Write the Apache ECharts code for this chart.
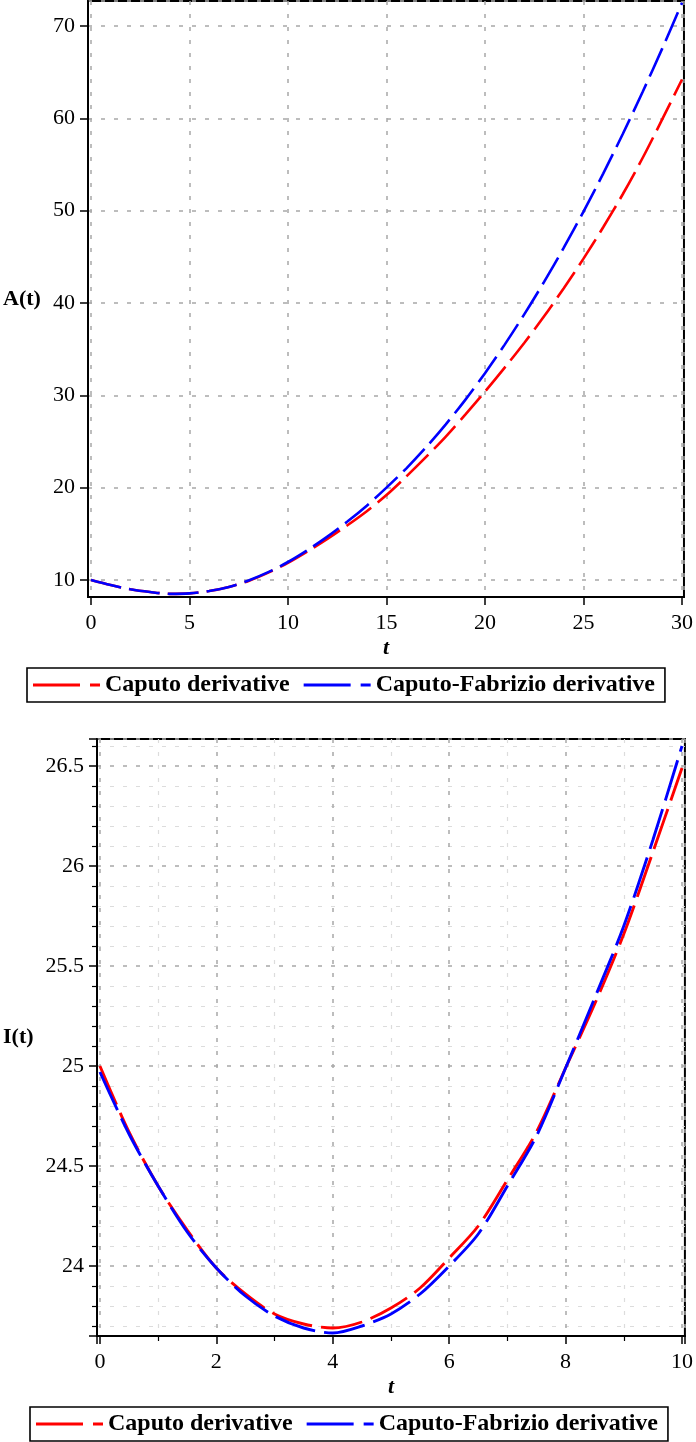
<!DOCTYPE html>
<html>
<head>
<meta charset="utf-8">
<script src="https://cdn.jsdelivr.net/npm/echarts@6/dist/echarts.min.js"></script>
<style>
html,body{margin:0;padding:0;background:#fff;}
#c{width:696px;height:1442px;}
</style>
</head>
<body>
<div id="c"></div>
<script>
// ---- Data ----
const legendNames = ['Caputo derivative', 'Caputo-Fabrizio derivative'];

// Top chart A(t), t = 0..30 step 1
const tA = [0,1,2,3,4,5,6,7,8,9,10,11,12,13,14,15,16,17,18,19,20,21,22,23,24,25,26,27,28,29,30];
const A_caputo = [10.0, 9.45, 9.0, 8.7, 8.5, 8.55, 8.8, 9.25, 9.9, 10.8, 11.85, 13.1, 14.45, 15.9, 17.45, 19.2, 21.2, 23.3, 25.5, 27.9, 30.4, 33.0, 35.7, 38.55, 41.6, 44.8, 48.2, 51.8, 55.7, 59.9, 64.2];
const A_cf = [10.0, 9.45, 9.0, 8.7, 8.5, 8.55, 8.8, 9.25, 9.95, 10.85, 11.95, 13.25, 14.7, 16.3, 18.05, 20.0, 22.07, 24.35, 26.83, 29.51, 32.4, 35.49, 38.79, 42.29, 45.99, 49.9, 54.01, 58.33, 62.85, 67.57, 72.5];

// Bottom chart I(t), t = 0..10 step 0.5
const tI = [0,0.5,1,1.5,2,2.5,3,3.5,4,4.5,5,5.5,6,6.5,7,7.5,8,8.5,9,9.5,10];
const I_caputo = [25.0, 24.67, 24.40, 24.18, 23.99, 23.86, 23.76, 23.71, 23.69, 23.72, 23.79, 23.89, 24.04, 24.20, 24.43, 24.67, 24.99, 25.31, 25.66, 26.07, 26.49];
const I_cf = [24.97, 24.66, 24.40, 24.17, 23.99, 23.85, 23.75, 23.69, 23.665, 23.70, 23.76, 23.86, 24.00, 24.16, 24.40, 24.65, 24.99, 25.34, 25.70, 26.13, 26.60];

// axis extents
const topX = {min: -0.15, max: 30.1};
const topY = {min: 8.16, max: 72.7};
const botX = {min: -0.05, max: 10.05};
const botY = {min: 23.65, max: 26.635};

const pair = (xs, ys) => xs.map((x, i) => [x, ys[i]]);

const FONT = 'Liberation Serif';
const gridDash = {color: '#a8a8a8', width: 1.5, type: [4, 9]};
const minorDash = {color: '#dcdcdc', width: 1.2, type: [4, 9]};
const legendIcon = 'path://M0,0H47V3H0ZM57,0H67V3H57Z';

function xAxisCfg(gridIndex, ext, minor) {
  return {
    type: 'value', gridIndex, min: ext.min, max: ext.max, splitNumber: 5,
    name: 't', nameLocation: 'middle', nameGap: 40,
    nameTextStyle: {fontFamily: FONT, fontSize: 22, fontWeight: 'bold', fontStyle: 'italic', color: '#000'},
    axisLine: {show: true, onZero: false, lineStyle: {color: '#000', width: 2}},
    axisTick: {show: true, length: 8, lineStyle: {color: '#000', width: 1.5}},
    minorTick: {show: minor, splitNumber: 2, length: 5, lineStyle: {color: '#000', width: 1.2}},
    axisLabel: {show: true, margin: 15, fontFamily: FONT, fontSize: 22, color: '#000', showMinLabel: false, showMaxLabel: false},
    splitLine: {show: true, lineStyle: gridDash},
    minorSplitLine: {show: minor, lineStyle: minorDash}
  };
}
function yAxisCfg(gridIndex, ext, name, gap, minor) {
  return {
    type: 'value', gridIndex, min: ext.min, max: ext.max, splitNumber: 5,
    name, nameLocation: 'middle', nameRotate: 0, nameGap: gap,
    nameTextStyle: {fontFamily: FONT, fontSize: 22, fontWeight: 'bold', color: '#000', align: 'left', verticalAlign: 'middle'},
    axisLine: {show: true, onZero: false, lineStyle: {color: '#000', width: 2}},
    axisTick: {show: true, length: 8, lineStyle: {color: '#000', width: 1.5}},
    minorTick: {show: minor, splitNumber: 5, length: 5, lineStyle: {color: '#000', width: 1.2}},
    axisLabel: {show: true, margin: 13, fontFamily: FONT, fontSize: 22, color: '#000', showMinLabel: false, showMaxLabel: false},
    splitLine: {show: true, lineStyle: gridDash},
    minorSplitLine: {show: minor, lineStyle: minorDash}
  };
}
function lineSeries(name, xi, yi, data, color, width, dash) {
  return {
    type: 'line', name, xAxisIndex: xi, yAxisIndex: yi, data,
    symbol: 'none', showSymbol: false, smooth: 0.3, silent: true, animation: false,
    lineStyle: {color, width, type: dash}, itemStyle: {color}
  };
}
function legendCfg(left, top) {
  return {
    data: legendNames.map(n => ({name: n, icon: legendIcon})),
    left, top,
    orient: 'horizontal',
    itemWidth: 67, itemHeight: 3, itemGap: 14,
    padding: [5, 10, 5, 6],
    borderColor: '#000', borderWidth: 1.6,
    selectedMode: false,
    textStyle: {fontFamily: FONT, fontSize: 24, fontWeight: 'bold', color: '#000'}
  };
}

const chart = echarts.init(document.getElementById('c'), null, {renderer: 'canvas'});
chart.setOption({
  animation: false,
  backgroundColor: '#fff',
  grid: [
    {left: 88, top: 1, width: 599, height: 596, show: true, borderColor: '#000', borderWidth: 2, containLabel: false},
    {left: 97, top: 739, width: 591, height: 597, show: true, borderColor: '#000', borderWidth: 2, containLabel: false}
  ],
  xAxis: [xAxisCfg(0, topX, false), xAxisCfg(1, botX, true)],
  yAxis: [yAxisCfg(0, topY, 'A(t)', 85, false), yAxisCfg(1, botY, 'I(t)', 94, true)],
  legend: [legendCfg(27, 668), legendCfg(30, 1407)],
  series: [
    lineSeries(legendNames[0], 0, 0, pair(tA, A_caputo), '#ff0000', 2.6, [31, 8]),
    lineSeries(legendNames[1], 0, 0, pair(tA, A_cf), '#0000ff', 2.6, [31, 8]),
    lineSeries(legendNames[0], 1, 1, pair(tI, I_caputo), '#ff0000', 2.9, [42, 9]),
    lineSeries(legendNames[1], 1, 1, pair(tI, I_cf), '#0000ff', 2.9, [42, 9])
  ]
});
</script>
</body>
</html>
